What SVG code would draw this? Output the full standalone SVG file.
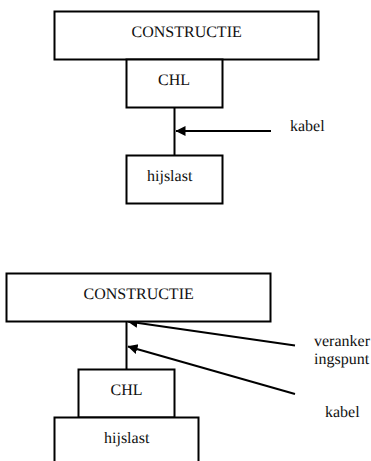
<svg xmlns="http://www.w3.org/2000/svg" width="371" height="461" viewBox="0 0 371 461">
<style>
rect{fill:#fff;stroke:#000;stroke-width:2}
text{font-family:"Liberation Serif","Times New Roman",serif;font-size:16px;fill:#111;text-rendering:geometricPrecision}
.c line{stroke:#000;stroke-width:2}
</style>
<defs><marker id="a" markerUnits="userSpaceOnUse" markerWidth="11" markerHeight="11" refX="9.5" refY="5" orient="auto"><path d="M0 0L10 5L0 10Z" fill="#000"/></marker></defs>
<rect width="371" height="461" style="stroke:none"/>
<g class="c" id="connectors">
<line x1="174.5" y1="107" x2="174.5" y2="155"/>
<line x1="271" y1="131" x2="176" y2="131" marker-end="url(#a)"/>
<line x1="126.5" y1="321" x2="126.5" y2="369"/>
<line x1="295" y1="345.5" x2="128" y2="321.5" marker-end="url(#a)"/>
<line x1="295" y1="394" x2="128" y2="346.5" marker-end="url(#a)"/>
</g>
<g id="constructie1"><rect x="54.5" y="11.5" width="264" height="48"/><text x="131.5" y="37">CONSTRUCTIE</text></g>
<g id="chl1"><rect x="126.5" y="59.5" width="96" height="48"/><text x="158" y="85">CHL</text></g>
<g id="hijslast1"><rect x="126.5" y="155.5" width="96" height="48"/><text x="147" y="181">hijslast</text></g>
<g id="kabel1"><text x="290" y="131">kabel</text></g>
<g id="constructie2"><rect x="6.5" y="273.5" width="264" height="48"/><text x="83.5" y="299">CONSTRUCTIE</text></g>
<g id="chl2"><rect x="78.5" y="369.5" width="96" height="48"/><text x="110.5" y="395">CHL</text></g>
<g id="hijslast2"><rect x="54.5" y="417.5" width="144" height="60"/><text x="104" y="443">hijslast</text></g>
<g id="verankeringspunt"><text x="314" y="346">veranker</text><text x="314" y="364">ingspunt</text></g>
<g id="kabel2"><text x="325" y="417">kabel</text></g>
</svg>
